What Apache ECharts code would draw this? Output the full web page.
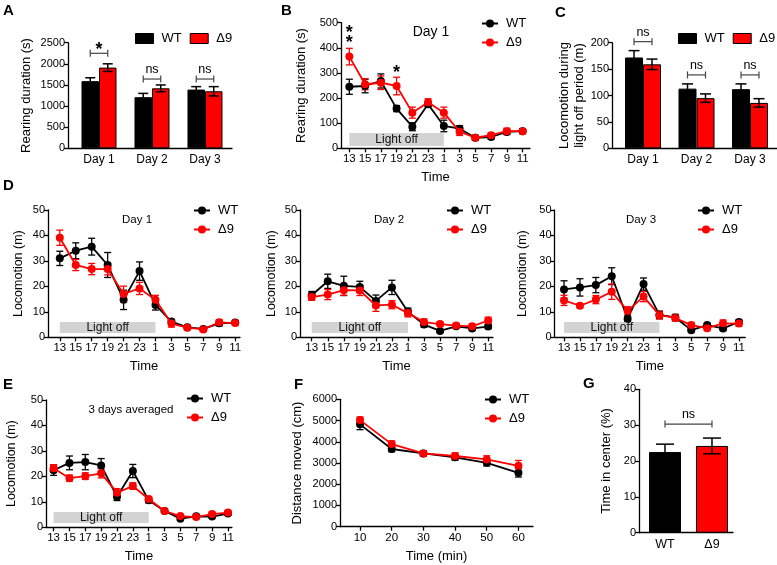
<!DOCTYPE html>
<html>
<head>
<meta charset="utf-8">
<script src="https://cdn.jsdelivr.net/npm/echarts@6.0.0/dist/echarts.min.js"></script>
<style>html,body{margin:0;padding:0;background:#fff;}#chart{width:777px;height:565px;}</style>
</head>
<body>
<div id="chart"></div>
<script>
// ---------------- data ----------------
const hourLabels = ['13','15','17','19','21','23','1','3','5','7','9','11'];
const dayLabels = ['Day 1','Day 2','Day 3'];
const groupLabels = ['WT','Δ9'];
const minuteTicks = [10,20,30,40,50,60];

// A: rearing duration (s)
const rearingWT = [1590,1210,1390];
const rearingWTErr = [80,90,70];
const rearingD9 = [1910,1420,1350];
const rearingD9Err = [90,80,110];

// B: rearing duration over day 1 (s)
const rearDay1WT = [245,248,268,158,86,175,89,78,42,45,65,68];
const rearDay1WTErr = [30,27,28,12,16,10,23,12,8,8,10,8];
const rearDay1D9 = [365,255,261,248,142,183,142,66,42,52,68,68];
const rearDay1D9Err = [33,22,27,35,22,14,22,15,10,8,12,10];

// C: locomotion during light off (m)
const lightOffLocoWT = [172,113,112];
const lightOffLocoWTErr = [13,9,10];
const lightOffLocoD9 = [159,95,86];
const lightOffLocoD9Err = [10,8,8];

// D: locomotion (m) per day
const locoDay1WT = [31.0,34.0,35.6,28.4,14.7,26.0,12.7,6.2,3.9,3.3,5.5,5.8];
const locoDay1WTErr = [2.8,3.1,3.3,4.9,3.8,3.6,2.0,0.8,0.6,0.5,1.0,0.6];
const locoDay1D9 = [39.1,28.4,26.8,26.8,17.0,19.2,14.7,5.4,3.8,3.1,5.9,5.6];
const locoDay1D9Err = [3.0,2.2,2.2,2.3,3.1,2.4,1.8,1.4,0.8,0.6,1.0,0.8];

const locoDay2WT = [16.5,22.0,20.2,19.8,14.3,19.6,10.0,5.0,2.5,4.3,3.5,4.2];
const locoDay2WTErr = [1.5,2.8,3.8,2.2,2.3,2.8,1.5,1.0,0.6,0.6,0.8,0.8];
const locoDay2D9 = [15.8,16.8,18.5,18.4,12.5,12.8,9.5,6.0,5.2,4.6,4.3,6.6];
const locoDay2D9Err = [1.3,2.0,2.0,2.0,2.3,1.6,1.5,1.2,0.8,0.8,0.8,1.3];

const locoDay3WT = [18.8,19.6,20.5,24.0,7.3,20.9,8.8,7.8,2.8,4.8,3.5,6.0];
const locoDay3WTErr = [3.4,3.4,3.0,3.3,1.0,2.4,1.5,1.2,0.6,0.7,0.8,0.8];
const locoDay3D9 = [14.5,12.4,14.8,17.9,10.4,16.0,8.7,7.6,4.8,3.6,5.5,5.4];
const locoDay3D9Err = [2.0,0.8,1.6,3.0,1.6,2.0,1.5,1.2,0.9,0.9,1.3,1.0];

// E: 3 days averaged (m)
const locoAvgWT = [22.4,25.3,25.6,24.3,12.0,22.1,10.6,6.4,3.4,4.3,4.2,5.4];
const locoAvgWTErr = [2.0,2.7,3.0,2.7,1.5,2.6,1.0,0.8,0.5,0.5,0.6,0.6];
const locoAvgD9 = [23.2,19.3,20.1,21.2,13.6,16.2,11.1,6.4,4.4,4.0,5.2,5.8];
const locoAvgD9Err = [1.4,1.2,1.3,1.8,1.6,1.3,1.0,0.8,0.6,0.6,0.7,0.7];

// F: distance moved (cm)
const distWT = [4820,3660,3450,3270,3010,2540];
const distWTErr = [250,130,120,130,150,200];
const distD9 = [5020,3890,3450,3330,3170,2870];
const distD9Err = [150,150,100,150,170,250];

// G: time in center (%)
const centerTime = [22.5,24.2];
const centerTimeErr = [2.2,2.2];

// light-off band (value range on y)
const lightOffRear = [9,61];
const lightOffLoco = [1.7,6.0];

// ---------------- helpers ----------------
const FONT = '"Liberation Sans", Arial, Helvetica, sans-serif';
const RED = '#ff0000';
const BLACK = '#000000';
const AX = {color:'#000', width:1.3};

const grid=[], xAxis=[], yAxis=[], series=[], legend=[], graphic=[];
const barSeries=[];

function addGrid(l,t,w,h){ grid.push({left:l,top:t,width:w,height:h,containLabel:false,outerBoundsMode:'none'}); return grid.length-1; }
function yAx(gi,min,max,interval,name,nameGap,nameSize){
  yAxis.push({type:'value',gridIndex:gi,min,max,interval,
    axisLine:{show:true,onZero:false,lineStyle:AX},
    axisTick:{show:true,length:4,lineStyle:AX},
    axisLabel:{color:'#000',fontSize:11,fontFamily:FONT,margin:3,formatter:v=>String(v)},
    splitLine:{show:false},
    name,nameLocation:'middle',nameGap,
    nameTextStyle:{color:'#000',fontSize:nameSize||13,fontFamily:FONT,lineHeight:15}});
}
function xAx(gi,min,max,ticks,fmt,tickShow,name,nameGap,fs){
  xAxis.push({type:'value',gridIndex:gi,min,max,
    axisLine:{show:true,onZero:false,lineStyle:AX},
    axisTick:{show:tickShow,length:4,customValues:ticks,lineStyle:AX},
    axisLabel:{customValues:ticks,formatter:fmt,color:'#000',fontSize:fs||11.5,fontFamily:FONT,margin:5},
    splitLine:{show:false},
    name,nameLocation:'middle',nameGap,
    nameTextStyle:{color:'#000',fontSize:13,fontFamily:FONT}});
}
function errSeries(gi,xs,means,errs,color,cap,offset,lw,z){
  return {type:'custom',xAxisIndex:gi,yAxisIndex:gi,silent:true,z:z||2,
    data:means.map((m,i)=>[xs[i],m,errs[i]]),encode:{x:0,y:1},
    renderItem:(p,api)=>{
      const x=api.value(0),m=api.value(1),e=api.value(2);
      const t=api.coord([x,m+e]),b=api.coord([x,m-e]);
      const cx=t[0]+(offset||0),h=cap/2;
      const st={stroke:color,lineWidth:lw||1.3};
      return {type:'group',children:[
        {type:'line',shape:{x1:cx,y1:t[1],x2:cx,y2:b[1]},style:st},
        {type:'line',shape:{x1:cx-h,y1:t[1],x2:cx+h,y2:t[1]},style:st},
        {type:'line',shape:{x1:cx-h,y1:b[1],x2:cx+h,y2:b[1]},style:st}]};
    }};
}
function bracketSeries(gi,pos,texts,half){
  return {type:'custom',xAxisIndex:gi,yAxisIndex:gi,silent:true,z:6,
    data:pos,encode:{x:0,y:1},
    renderItem:(p,api)=>{
      const c=api.coord([api.value(0),api.value(1)]);
      const txt=texts[p.dataIndex];
      const st={stroke:'#444',lineWidth:1.2};
      const star=txt==='*';
      return {type:'group',children:[
        {type:'line',shape:{x1:c[0]-half,y1:c[1],x2:c[0]+half,y2:c[1]},style:st},
        {type:'line',shape:{x1:c[0]-half,y1:c[1]-3.5,x2:c[0]-half,y2:c[1]+3.5},style:st},
        {type:'line',shape:{x1:c[0]+half,y1:c[1]-3.5,x2:c[0]+half,y2:c[1]+3.5},style:st},
        {type:'text',x:c[0],y:c[1]-3,
          style:{text:txt,fill:'#000',fontFamily:FONT,fontSize:star?18:12.5,fontWeight:star?'bold':'normal',
            align:'center',verticalAlign:star?'middle':'bottom'}}]};
    }};
}
function starSeries(gi,pos){
  return {type:'custom',xAxisIndex:gi,yAxisIndex:gi,silent:true,z:6,
    data:pos,encode:{x:0,y:1},
    renderItem:(p,api)=>{
      const c=api.coord([api.value(0),api.value(1)]);
      return {type:'text',x:c[0],y:c[1]+5,
        style:{text:'*',fill:'#000',fontFamily:FONT,fontSize:18,fontWeight:'bold',align:'center',verticalAlign:'middle'}};
    }};
}
const idx = hourLabels.map((_,i)=>i);
const hourFmt = v=>hourLabels[Math.round(v)];

function linePanel(gi,xs,wt,wtE,d9,d9E,band,cap){
  series.push({type:'line',name:'WT',xAxisIndex:gi,yAxisIndex:gi,
    data:xs.map((x,i)=>[x,wt[i]]),symbol:'circle',symbolSize:8,
    itemStyle:{color:BLACK},lineStyle:{color:BLACK,width:1.8},z:3,
    markArea: band ? {silent:true,itemStyle:{color:'#d3d3d3'},
      label:{show:true,position:'inside',color:'#111',fontSize:12,fontFamily:FONT},
      data:[[{name:'Light off',xAxis:0,yAxis:band[0]},{xAxis:6,yAxis:band[1]}]]} : undefined});
  series.push({type:'line',name:'Δ9',xAxisIndex:gi,yAxisIndex:gi,
    data:xs.map((x,i)=>[x,d9[i]]),symbol:'circle',symbolSize:8,
    itemStyle:{color:RED},lineStyle:{color:RED,width:1.8},z:4});
  series.push(errSeries(gi,xs,wt,wtE,BLACK,cap,0,1.3,2));
  series.push(errSeries(gi,xs,d9,d9E,RED,cap,0,1.3,2));
}
function lineLegend(l,t){
  legend.push({orient:'vertical',left:l,top:t,padding:0,itemWidth:16,itemHeight:10,itemGap:6,selectedMode:false,
    data:['WT','Δ9'],textStyle:{color:'#000',fontSize:13,fontFamily:FONT,lineHeight:13,padding:[0,0,0,3]}});
}
function barPanel(gi,wt,wtE,d9,d9E,bw,cap){
  const xs=wt.map((_,i)=>i);
  barSeries.push({type:'bar',name:'WT',xAxisIndex:gi,yAxisIndex:gi,data:xs.map(i=>[i,wt[i]]),
    barWidth:bw,barGap:'0%',itemStyle:{color:BLACK,borderColor:BLACK,borderWidth:1}});
  barSeries.push({type:'bar',name:'Δ9',xAxisIndex:gi,yAxisIndex:gi,data:xs.map(i=>[i,d9[i]]),
    barWidth:bw,barGap:'0%',itemStyle:{color:RED,borderColor:BLACK,borderWidth:1}});
  barSeries.push(errSeries(gi,xs,wt,wtE,BLACK,cap,-bw/2,1.5,5));
  barSeries.push(errSeries(gi,xs,d9,d9E,BLACK,cap,bw/2,1.5,5));
}
function barLegend(l,t){
  legend.push({orient:'horizontal',left:l,top:t,padding:0,itemWidth:18,itemHeight:10,itemGap:8,selectedMode:false,
    data:[{name:'WT',icon:'rect',itemStyle:{color:BLACK,borderColor:BLACK,borderWidth:1}},
          {name:'Δ9',icon:'rect',itemStyle:{color:RED,borderColor:BLACK,borderWidth:1}}],
    textStyle:{color:'#000',fontSize:13,fontFamily:FONT,padding:[0,0,0,3]}});
}
function txt(x,y,s,size,bold,align,va){
  graphic.push({type:'text',x,y,silent:true,style:{text:s,fill:'#000',fontFamily:FONT,fontSize:size,
    fontWeight:bold?'bold':'normal',align:align||'center',verticalAlign:va||'middle'}});
}

// ---------------- panels ----------------
// B
let g = addGrid(341,22.7,189,125.6);
xAx(g,-0.53,11.47,idx,hourFmt,true,'Time',23);
yAx(g,0,500,100,'Rearing duration (s)',32);
linePanel(g,idx,rearDay1WT,rearDay1WTErr,rearDay1D9,rearDay1D9Err,lightOffRear,7);
series.push(starSeries(g,[[0,479],[0,439],[3,319]]));
lineLegend(481,17);

// D1
g = addGrid(48,210,192,127.3);
xAx(g,-0.74,11.3,idx,hourFmt,true,'Time',23);
yAx(g,0,50,10,'Locomotion (m)',22,12.5);
linePanel(g,idx,locoDay1WT,locoDay1WTErr,locoDay1D9,locoDay1D9Err,lightOffLoco,7);
lineLegend(193,204);

// D2
g = addGrid(300,210,193,127.3);
xAx(g,-0.73,11.3,idx,hourFmt,true,'Time',23);
yAx(g,0,50,10,'Locomotion (m)',21,12.5);
linePanel(g,idx,locoDay2WT,locoDay2WTErr,locoDay2D9,locoDay2D9Err,lightOffLoco,7);
lineLegend(446,204);

// D3
g = addGrid(554.5,210,190.8,127.3);
xAx(g,-0.6,11.4,idx,hourFmt,true,'Time',23);
yAx(g,0,50,10,'Locomotion (m)',24,12.5);
linePanel(g,idx,locoDay3WT,locoDay3WTErr,locoDay3D9,locoDay3D9Err,lightOffLoco,7);
lineLegend(697,204);

// E
g = addGrid(46,400,185.9,127.3);
xAx(g,-0.48,11.25,idx,hourFmt,true,'Time',23);
yAx(g,0,50,10,'Locomotion (m)',27,12.5);
linePanel(g,idx,locoAvgWT,locoAvgWTErr,locoAvgD9,locoAvgD9Err,lightOffLoco,7);
lineLegend(186,392);

// F
g = addGrid(340,399.3,193,127.4);
xAx(g,3.68,64.6,minuteTicks,v=>String(Math.round(v)),true,'Time (min)',23);
yAx(g,0,6000,1000,'Distance moved (cm)',35);
linePanel(g,minuteTicks,distWT,distWTErr,distD9,distD9Err,null,7);
lineLegend(484,393);

// A
g = addGrid(68,42.7,164,105.6);
xAx(g,-0.585,2.51,[0,1,2],v=>dayLabels[Math.round(v)],false,'',0,12);
yAx(g,0,2500,500,'Rearing duration (s)',34);
barPanel(g,rearingWT,rearingWTErr,rearingD9,rearingD9Err,17.5,10);
barSeries.push(bracketSeries(g,[[0,2249],[1,1640],[2,1640]],['*','ns','ns'],8.75));
barLegend(135,32);

// C
g = addGrid(612,42.7,165,105.6);
xAx(g,-0.58,2.505,[0,1,2],v=>dayLabels[Math.round(v)],false,'',0,12);
yAx(g,0,200,50,'Locomotion during\nlight off period (m)',24);
barPanel(g,lightOffLocoWT,lightOffLocoWTErr,lightOffLocoD9,lightOffLocoD9Err,18,11);
barSeries.push(bracketSeries(g,[[0,202],[1,139],[2,139]],['ns','ns','ns'],9));
barLegend(678,32);

// G
g = addGrid(639,389.3,94,143.4);
xAx(g,-0.553,1.447,[0,1],v=>groupLabels[Math.round(v)],false,'',0,12.5);
yAx(g,0,40,10,'Time in center (%)',25);
const gx=[0,1];
barSeries.push({type:'bar',name:'WT',xAxisIndex:g,yAxisIndex:g,data:[[0,centerTime[0]]],barWidth:32,barGap:'-100%',
  itemStyle:{color:BLACK,borderColor:BLACK,borderWidth:1}});
barSeries.push({type:'bar',name:'Δ9',xAxisIndex:g,yAxisIndex:g,data:[[1,centerTime[1]]],barWidth:32,barGap:'-100%',
  itemStyle:{color:RED,borderColor:BLACK,borderWidth:1}});
barSeries.push(errSeries(g,gx,centerTime,centerTimeErr,BLACK,18,0,1.5,5));
barSeries.push(bracketSeries(g,[[0.5,30.3]],['ns'],23.5));

// panel letters and in-plot labels
txt(3,3,'A',15,true,'left','top');
txt(281,3,'B',15,true,'left','top');
txt(555,5,'C',15,true,'left','top');
txt(3,178,'D',15,true,'left','top');
txt(3,377,'E',15,true,'left','top');
txt(294,377,'F',15,true,'left','top');
txt(583,376,'G',15,true,'left','top');
txt(431,32,'Day 1',14);
txt(137,220,'Day 1',11.5);
txt(389,220,'Day 2',11.5);
txt(641,220,'Day 3',11.5);
txt(131,410,'3 days averaged',11.5);

const chart = echarts.init(document.getElementById('chart'),null,{renderer:'canvas'});
chart.setOption({
  animation:false,
  backgroundColor:'#fff',
  textStyle:{fontFamily:FONT},
  grid, xAxis, yAxis, legend, graphic,
  series: series.concat(barSeries)
});
</script>
</body>
</html>
